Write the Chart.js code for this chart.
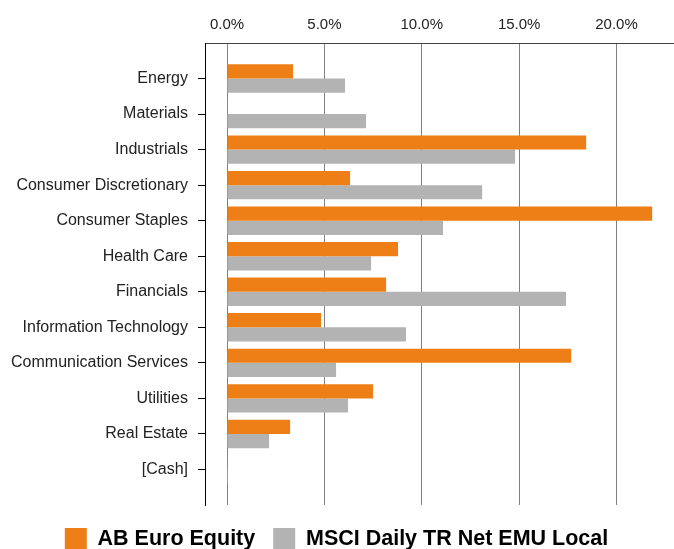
<!DOCTYPE html>
<html>
<head>
<meta charset="utf-8">
<script src="https://cdn.jsdelivr.net/npm/chart.js@4/dist/chart.umd.min.js"></script>
<style>
  html, body { margin: 0; padding: 0; background: #fff; }
  #wrap { width: 674px; height: 549px; }
</style>
</head>
<body>
<div id="wrap"><canvas id="chart"></canvas></div>
<script>
// sector weights (%)
const sectors = [
    "Energy",
    "Materials",
    "Industrials",
    "Consumer Discretionary",
    "Consumer Staples",
    "Health Care",
    "Financials",
    "Information Technology",
    "Communication Services",
    "Utilities",
    "Real Estate",
    "[Cash]",
];

const fundValues = [3.39, 0.05, 18.44, 6.32, 21.83, 8.78, 8.17, 4.83, 17.67, 7.5, 3.24, 0.05];
const indexValues = [6.06, 7.14, 14.79, 13.1, 11.09, 7.4, 17.41, 9.19, 5.6, 6.21, 2.16, 0.05];
const xTicks = [0, 5, 10, 15, 20];

// empty slot above and below so the rows sit a full step from the frame
const labels = ["", ...sectors, ""];
const pad = (arr) => [null, ...arr, null];

const data = {
    labels: labels,
    datasets: [{
        label: "AB Euro Equity",
        data: pad(fundValues),
        backgroundColor: "#EE7F16",
    }, {
        label: "MSCI Daily TR Net EMU Local",
        data: pad(indexValues),
        backgroundColor: "#B3B3B3",
    }]
};

// push legend down, it is cut by the bottom edge in the original
const legendShift = {
    id: "legendShift",
    afterLayout(chart) {
        chart.legend.top = 510;
    }
};

const config = {
    type: "bar",
    data: data,
    plugins: [legendShift],
    options: {
        indexAxis: "y",
        responsive: false,
        animation: false,
        categoryPercentage: 0.8,
        barPercentage: 1.0,
        layout: { padding: { right: 1, bottom: -6 } },
        scales: {
            x: {
                position: "top",
                min: -1.13,
                max: 22.9,
                afterBuildTicks(scale) {
                    scale.ticks = xTicks.map(v => ({ value: v }));
                },
                afterFit(scale) { scale.height = 43; },
                grid: { color: "#808080", lineWidth: 1, drawTicks: false },
                border: { color: "#444", width: 1 },
                ticks: {
                    padding: 9,
                    color: "#222",
                    font: { family: "'Liberation Sans', Arial, sans-serif", size: 15 },
                    callback: (v) => v.toFixed(1) + "%",
                },
            },
            y: {
                offset: false,
                afterFit(scale) { scale.width = 205; },
                grid: {
                    offset: false,
                    drawOnChartArea: false,
                    tickLength: 7,
                    color: (ctx) => (ctx.index === 0 || ctx.index === labels.length - 1) ? "rgba(0,0,0,0)" : "#000",
                },
                border: { color: "#000", width: 1 },
                ticks: {
                    padding: 10,
                    color: "#222",
                    autoSkip: false,
                    font: { family: "'Liberation Sans', Arial, sans-serif", size: 16 },
                },
            },
        },
        plugins: {
            tooltip: { enabled: false },
            legend: {
                position: "bottom",
                align: "center",
                labels: {
                    boxWidth: 22,
                    boxHeight: 22,
                    padding: 18,
                    color: "#000",
                    font: { family: "'Liberation Sans', Arial, sans-serif", size: 21.5, weight: "bold" },
                },
            },
        },
    },
};

const canvas = document.getElementById("chart");
canvas.width = 674;
canvas.height = 549;
const chart1 = new Chart(canvas, config);
</script>
</body>
</html>
